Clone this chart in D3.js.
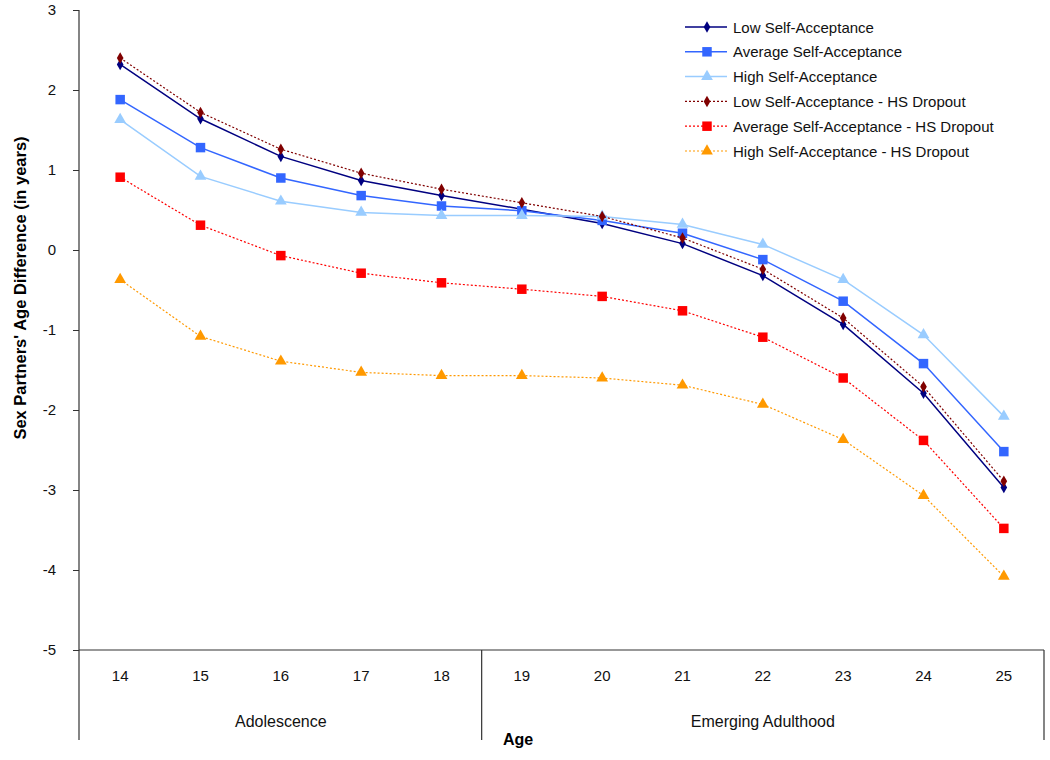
<!DOCTYPE html>
<html>
<head>
<meta charset="utf-8">
<script src="https://cdn.jsdelivr.net/npm/d3@7"></script>
<style>
  body { margin: 0; background: #fff; }
  svg text { font-family: Arial, "Liberation Sans", sans-serif; }
</style>
</head>
<body>
<div class="chart"></div>
<script>
let ages = [14, 15, 16, 17, 18, 19, 20, 21, 22, 23, 24, 25];
let lowSA = [2.32, 1.64, 1.17, 0.87, 0.68, 0.51, 0.33, 0.08, -0.32, -0.93, -1.79, -2.97];
let avgSA = [1.88, 1.28, 0.90, 0.68, 0.55, 0.49, 0.37, 0.21, -0.12, -0.64, -1.42, -2.52];
let highSA = [1.63, 0.92, 0.61, 0.47, 0.43, 0.43, 0.42, 0.32, 0.07, -0.37, -1.06, -2.08];
let lowSAdrop = [2.40, 1.72, 1.26, 0.96, 0.76, 0.59, 0.42, 0.15, -0.24, -0.85, -1.71, -2.89];
let avgSAdrop = [0.91, 0.31, -0.07, -0.29, -0.41, -0.49, -0.58, -0.76, -1.09, -1.60, -2.38, -3.48];
let highSAdrop = [-0.37, -1.08, -1.39, -1.53, -1.57, -1.57, -1.60, -1.69, -1.93, -2.37, -3.07, -4.08];
let seriesNames = ["Low Self-Acceptance", "Average Self-Acceptance", "High Self-Acceptance",
  "Low Self-Acceptance - HS Dropout", "Average Self-Acceptance - HS Dropout", "High Self-Acceptance - HS Dropout"];
let yTicks = [-5, -4, -3, -2, -1, 0, 1, 2, 3];
let periods = [{name: "Adolescence", from: 14, to: 18}, {name: "Emerging Adulthood", from: 19, to: 25}];

let chartW = 1050, chartH = 760;
let padL = 80, padR = 1044, padT = 10, axisY = 650, lowestY = 740;

// style for each series, same order as seriesNames
let styles = [
  {color: "#000080", dash: null, shape: d3.symbolDiamond, size: 38},
  {color: "#3366FF", dash: null, shape: d3.symbolSquare, size: 90},
  {color: "#99CCFF", dash: null, shape: d3.symbolTriangle, size: 60},
  {color: "#800000", dash: "2,2", shape: d3.symbolDiamond, size: 38},
  {color: "#FF0000", dash: "2,2", shape: d3.symbolSquare, size: 90},
  {color: "#FF9900", dash: "2,2", shape: d3.symbolTriangle, size: 60}
];
let allValues = [lowSA, avgSA, highSA, lowSAdrop, avgSAdrop, highSAdrop];
let series = seriesNames.map((n, i) => ({name: n, values: allValues[i], style: styles[i]}));

let svg = d3.select(".chart").append("svg").attr("width", chartW).attr("height", chartH);

let xScale = d3.scaleBand().domain(ages).range([padL, padR]).padding(0);
let xMid = d => xScale(d) + xScale.bandwidth() / 2;
let yScale = d3.scaleLinear().domain([-5, 3]).range([axisY, padT]);

// y axis
let yAxis = d3.axisLeft(yScale).tickValues(yTicks).tickFormat(d => String(d))
              .tickSize(6).tickSizeOuter(0).tickPadding(17);
let yAxisGroup = svg.append("g").attr("transform", "translate(" + (padL - 1) + ",0)").call(yAxis);
yAxisGroup.select(".domain").remove();
yAxisGroup.selectAll("line").attr("stroke", "#333");
yAxisGroup.selectAll("text").attr("font-size", "15px").attr("fill", "#111");
svg.append("line").attr("x1", padL - 1).attr("x2", padL - 1).attr("y1", padT).attr("y2", lowestY)
   .attr("stroke", "#333").attr("stroke-width", 1.2);

// x axis
let xAxis = d3.axisBottom(xScale).tickSize(0).tickPadding(20).tickSizeOuter(0);
let xAxisGroup = svg.append("g").attr("transform", "translate(0," + axisY + ")").call(xAxis);
xAxisGroup.select(".domain").remove();
xAxisGroup.selectAll("text").attr("font-size", "15px").attr("fill", "#111");
svg.append("line").attr("x1", padL - 1).attr("x2", padR).attr("y1", axisY).attr("y2", axisY)
   .attr("stroke", "#333").attr("stroke-width", 1.2);

// period brackets
periods.forEach(p => {
  let x0 = xScale(p.from), x1 = xScale(p.to) + xScale.bandwidth();
  svg.append("line").attr("x1", x1).attr("x2", x1).attr("y1", axisY).attr("y2", lowestY)
     .attr("stroke", "#333").attr("stroke-width", 1.2);
  svg.append("text").text(p.name)
     .attr("x", (x0 + x1) / 2).attr("y", 727)
     .attr("text-anchor", "middle").attr("font-size", "16px").attr("fill", "#111");
});

svg.append("text").text("Age").attr("x", 518).attr("y", 745)
   .attr("text-anchor", "middle").attr("font-size", "16px").attr("font-weight", "bold");
svg.append("text").text("Sex Partners' Age Difference  (in years)")
   .attr("transform", "translate(26,288) rotate(-90)")
   .attr("text-anchor", "middle").attr("font-size", "16.5px").attr("font-weight", "bold");

// lines + markers
let line = d3.line().x((d, i) => xMid(ages[i])).y(d => yScale(d));
series.forEach(s => {
  let g = svg.append("g").attr("class", "series");
  g.append("path").attr("d", line(s.values)).attr("fill", "none")
   .attr("stroke", s.style.color).attr("stroke-width", s.style.dash ? 1.2 : 1.5)
   .attr("stroke-dasharray", s.style.dash);
  g.selectAll("path.mark").data(s.values).enter().append("path")
   .attr("class", "mark")
   .attr("d", d3.symbol().type(s.style.shape).size(s.style.size))
   .attr("transform", (d, i) => "translate(" + xMid(ages[i]) + "," + yScale(d) + ")")
   .attr("fill", s.style.color);
});

// legend
let legend = svg.append("g").attr("transform", "translate(685,27)");
series.forEach((s, i) => {
  let row = legend.append("g").attr("transform", "translate(0," + i * 24.8 + ")");
  row.append("line").attr("x1", 0).attr("x2", 42).attr("y1", 0).attr("y2", 0)
     .attr("stroke", s.style.color).attr("stroke-width", s.style.dash ? 1.2 : 1.5)
     .attr("stroke-dasharray", s.style.dash);
  row.append("path").attr("d", d3.symbol().type(s.style.shape).size(s.style.size))
     .attr("transform", "translate(22,0)").attr("fill", s.style.color);
  row.append("text").text(s.name).attr("x", 48).attr("y", 5.5)
     .attr("font-size", "15px").attr("fill", "#111");
});
</script>
</body>
</html>
